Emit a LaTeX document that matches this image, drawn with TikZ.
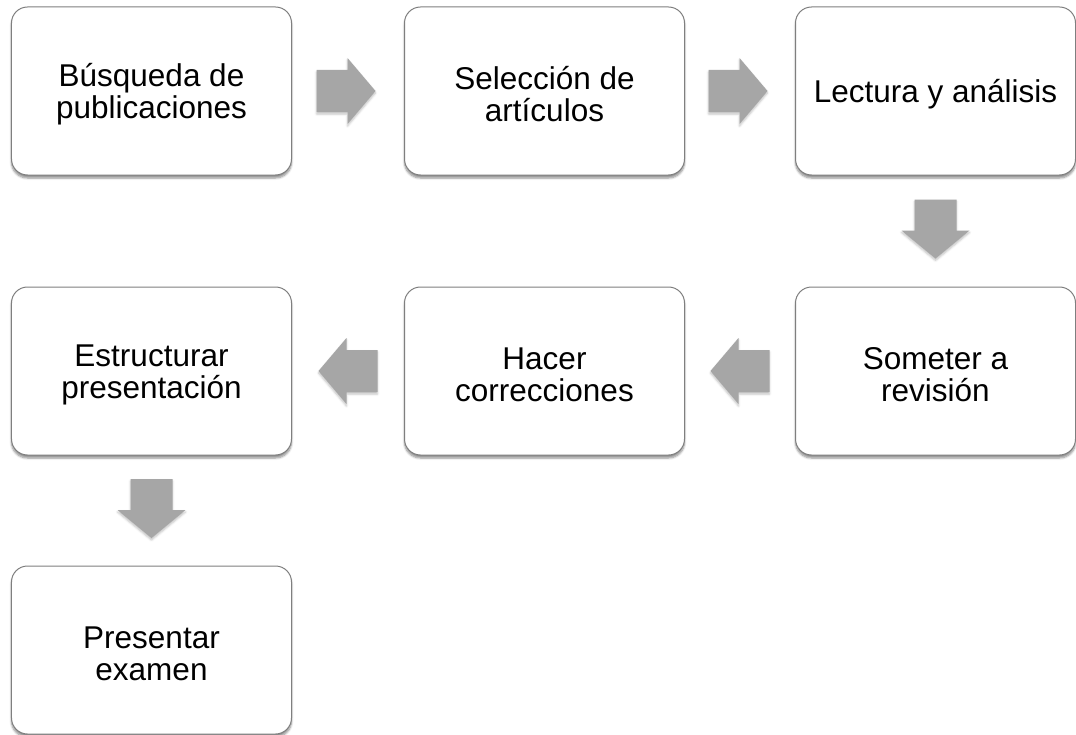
\documentclass[tikz,border=0pt]{standalone}
\usepackage{fontspec}
\setmainfont{Liberation Sans}
\usetikzlibrary{shadows.blur,calc}
\definecolor{boxline}{HTML}{7F7F7F}
\definecolor{arrowfill}{HTML}{A6A6A6}
\tikzset{
  box/.style={draw=boxline, line width=1bp, fill=white, rounded corners=16bp,
    minimum width=280bp, minimum height=168bp, inner sep=0pt,
    blur shadow={shadow xshift=0bp, shadow yshift=-3bp, shadow blur steps=6, shadow opacity=45}},
  boxtext/.style={inner sep=0pt, align=center, font=\fontsize{31.5bp}{32bp}\selectfont},
  blockarrow/.style={fill=arrowfill, draw=none,
    blur shadow={shadow xshift=0bp, shadow yshift=-2bp, shadow blur steps=4, shadow opacity=25}}
}
\begin{document}
\begin{tikzpicture}[x=1bp,y=-1bp]
\useasboundingbox (0,0) rectangle (1076,735);
\node[box] (b1) at (151.5,91) {};
\node[box] (b2) at (544.5,91) {};
\node[box] (b3) at (935.5,91) {};
\node[box] (b4) at (935.5,371) {};
\node[box] (b5) at (544.5,371) {};
\node[box] (b6) at (151.5,371) {};
\node[box] (b7) at (151.5,650) {};
\node[boxtext] (t1) at ([yshift=-3.5bp]b1.center) {Búsqueda de\\publicaciones};
\node[boxtext] (t2) at ([yshift=-3.5bp]b2.center) {Selección de\\artículos};
\node[boxtext] (t3) at ([yshift=-3bp]b3.center) {Lectura y análisis};
\node[boxtext] (t4) at ([yshift=-3.5bp]b4.center) {Someter a\\revisión};
\node[boxtext] (t5) at ([yshift=-3.5bp]b5.center) {Hacer\\correcciones};
\node[boxtext] (t6) at ([yshift=-3.5bp]b6.center) {Estructurar\\presentación};
\node[boxtext] (t7) at ([yshift=-3.5bp]b7.center) {Presentar\\examen};
\coordinate (a1) at ($(b1.east)!0.5!(b2.west)+(-2,0)$);
\coordinate (a2) at ($(b2.east)!0.5!(b3.west)+(-2,0)$);
\coordinate (a3) at ($(b3.south)!0.5!(b4.north)+(0,-2)$);
\coordinate (a4) at ($(b4.west)!0.5!(b5.east)$);
\coordinate (a5) at ($(b5.west)!0.5!(b6.east)$);
\coordinate (a6) at ($(b6.south)!0.5!(b7.north)+(0,-2)$);
% right arrows
\foreach \c in {a1,a2}{
  \path[blockarrow, shift={(\c)}] (-29.5,-21) -- (1.5,-21) -- (1.5,-33) -- (29.5,0)
     -- (1.5,33) -- (1.5,21) -- (-29.5,21) -- cycle;}
% left arrows
\foreach \c in {a4,a5}{
  \path[blockarrow, shift={(\c)}] (29.5,-21) -- (-1.5,-21) -- (-1.5,-33) -- (-29.5,0)
     -- (-1.5,33) -- (-1.5,21) -- (29.5,21) -- cycle;}
% down arrows
\foreach \c in {a3,a6}{
  \path[blockarrow, shift={(\c)}] (-21,-29.5) -- (-21,1.5) -- (-34,1.5) -- (0,29.5)
     -- (34,1.5) -- (21,1.5) -- (21,-29.5) -- cycle;}
\end{tikzpicture}
\end{document}
